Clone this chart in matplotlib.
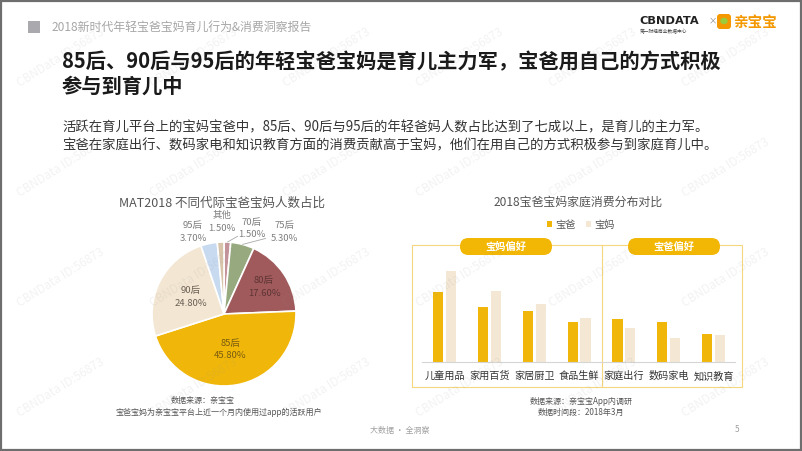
import matplotlib
matplotlib.use('Agg')
import matplotlib.pyplot as plt
from matplotlib.patches import Rectangle, FancyBboxPatch, Ellipse
import numpy as np

plt.rcParams['font.family'] = ['Noto Sans CJK SC', 'DejaVu Sans']

W, H = 802, 451

# pie data (clockwise from 12 o'clock)
pie_labels = ['70后', '75后', '80后', '85后', '90后', '95后', '其他']
pie_values = [1.5, 5.3, 17.6, 45.8, 24.8, 3.7, 1.5]
pie_colors = ['#C4939A', '#97AA7F', '#A05A5C', '#F0B70A', '#F3E7D3', '#C8DAF0', '#D8C4AA']

# bar data (relative heights, no axis in the original)
bar_categories = ['儿童用品', '家用百货', '家居厨卫', '食品生鲜', '家庭出行', '数码家电', '知识教育']
dad_values = [70, 55, 51, 40, 43, 40, 28]
mom_values = [91, 71, 58, 44, 34, 24, 27]
dad_color = '#F0B70A'
mom_color = '#F4E8D5'


def box(x0, y0, x1, y1):
    # pixel box (top-left origin) -> figure fraction rect
    return [x0 / W, 1 - y1 / H, (x1 - x0) / W, (y1 - y0) / H]


fig = plt.figure(figsize=(W / 100, H / 100), dpi=100)
bg = fig.add_axes([0, 0, 1, 1])
bg.set_xlim(0, W)
bg.set_ylim(H, 0)
bg.axis('off')

# slide border
bg.add_patch(Rectangle((0.8, 0.8), W - 1.6, H - 1.6, fill=False, edgecolor='#6E6E6E', lw=1.6))

# header
bg.add_patch(Rectangle((28, 21), 12, 12, color='#A9A9AE', lw=0))
bg.text(52, 27, '2018新时代年轻宝爸宝妈育儿行为&消费洞察报告', fontsize=8.6, color='#A6A6A6', va='center')

# logos
bg.text(639, 21, 'CBNDATA', fontsize=8.2, fontweight='bold', color='#222222', va='center', family='DejaVu Sans')
bg.text(640, 31.5, '第一财经商业数据中心', fontsize=3.4, color='#444444', va='center')
bg.text(708.5, 21, '×', fontsize=6, color='#888888', va='center')
bg.add_patch(FancyBboxPatch((717, 14), 14, 15, boxstyle='round,pad=0,rounding_size=3', fc='#F39800', ec='none'))
bg.add_patch(Ellipse((724, 21), 6, 5, color='#9CCB3B'))
bg.text(733, 22, '亲宝宝', fontsize=10.5, fontweight='bold', color='#F39800', va='center')

# headline
bg.text(62, 62, '85后、90后与95后的年轻宝爸宝妈是育儿主力军，宝爸用自己的方式积极',
        fontsize=14.6, fontweight='bold', color='#1A1A1A', va='center')
bg.text(62, 86, '参与到育儿中', fontsize=14.6, fontweight='bold', color='#1A1A1A', va='center')

# paragraph
bg.text(62, 127, '活跃在育儿平台上的宝妈宝爸中，85后、90后与95后的年轻爸妈人数占比达到了七成以上，是育儿的主力军。',
        fontsize=9.6, color='#333333', va='center')
bg.text(62, 145, '宝爸在家庭出行、数码家电和知识教育方面的消费贡献高于宝妈，他们在用自己的方式积极参与到家庭育儿中。',
        fontsize=9.6, color='#333333', va='center')

# ---------- pie ----------
bg.text(222, 203, 'MAT2018 不同代际宝爸宝妈人数占比', fontsize=9.0, color='#555555', ha='center', va='center')

ax_pie = fig.add_axes(box(134, 224, 314, 404))
wedges, _ = ax_pie.pie(pie_values, colors=pie_colors, startangle=90, counterclock=False,
                       radius=1, wedgeprops=dict(edgecolor='white', linewidth=1.2))
ax_pie.set_xlim(-1.25, 1.25)
ax_pie.set_ylim(-1.25, 1.25)

inner_r = {2: 0.67, 3: 0.5, 4: 0.52}
inner_color = {2: '#5E3434', 3: '#7A5C10', 4: '#6B6055'}
outer_xy = {0: (0.39, 1.19), 1: (0.84, 1.14), 5: (-0.43, 1.14), 6: (-0.03, 1.28)}
leader_end = {0: (0.19, 1.08), 1: (0.58, 1.05)}

for i, w in enumerate(wedges):
    txt = f'{pie_labels[i]}\n{pie_values[i]:.2f}%'
    mid = np.deg2rad((w.theta1 + w.theta2) / 2)
    if i in inner_r:
        r = inner_r[i]
        ax_pie.text(r * np.cos(mid), r * np.sin(mid), txt, fontsize=6.8, color=inner_color[i],
                    ha='center', va='center', linespacing=1.5)
    else:
        x, y = outer_xy[i]
        ax_pie.text(x, y, txt, fontsize=6.8, color='#7F7F7F', ha='center', va='center', linespacing=1.5)
    if i in leader_end:
        ax_pie.annotate('', xy=(1.0 * np.cos(mid), 1.0 * np.sin(mid)), xytext=leader_end[i],
                        arrowprops=dict(arrowstyle='-', color='#A8A8A8', lw=0.6, shrinkA=0, shrinkB=0))

bg.text(203, 401, '数据来源：亲宝宝', fontsize=5.8, color='#555555', ha='center', va='center')
bg.text(219, 412, '宝爸宝妈为亲宝宝平台上近一个月内使用过app的活跃用户', fontsize=5.8, color='#555555',
        ha='center', va='center')

# ---------- bars ----------
bg.text(578, 202, '2018宝爸宝妈家庭消费分布对比', fontsize=8.6, color='#555555', ha='center', va='center')

frame_c = '#F6D77F'
bg.add_patch(Rectangle((412, 245), 330, 142, fill=False, edgecolor=frame_c, lw=0.8))
bg.plot([602, 602], [245, 387], color=frame_c, lw=0.8)
for x0, label in [(460, '宝妈偏好'), (628, '宝爸偏好')]:
    bg.add_patch(FancyBboxPatch((x0, 238), 92, 17, boxstyle='round,pad=0,rounding_size=8.5',
                                fc='#F2B705', ec='none'))
    bg.text(x0 + 46, 246.5, label, fontsize=7.4, fontweight='bold', color='white', ha='center', va='center')

ax_bar = fig.add_axes(box(422, 262, 735, 362))
x = np.arange(len(bar_categories))
bw = 0.23
off = 0.143
ax_bar.bar(x - off, dad_values, bw, color=dad_color, label='宝爸')
ax_bar.bar(x + off, mom_values, bw, color=mom_color, label='宝妈')
ax_bar.set_xlim(-0.507, 6.48)
ax_bar.set_ylim(0, 100)
ax_bar.patch.set_alpha(0)
for s in ['top', 'right', 'left']:
    ax_bar.spines[s].set_visible(False)
ax_bar.spines['bottom'].set_color('#D5D5D5')
ax_bar.spines['bottom'].set_linewidth(0.8)
ax_bar.set_yticks([])
ax_bar.set_xticks(x, bar_categories)
ax_bar.tick_params(axis='x', length=0, pad=6.5, labelsize=7.3, labelcolor='#333333')
ax_bar.legend(ncol=2, loc='center', bbox_to_anchor=(581 / W, 1 - 225 / H), bbox_transform=fig.transFigure,
              frameon=False, fontsize=7.4, handlelength=0.5, handleheight=0.5, handletextpad=0.3,
              columnspacing=1.0, labelcolor='#595959')

bg.text(581, 401, '数据来源：亲宝宝App内调研', fontsize=5.8, color='#555555', ha='center', va='center')
bg.text(581, 412, '数据时间段：2018年3月', fontsize=5.8, color='#555555', ha='center', va='center')

# footer
bg.text(400, 430, '大数据 · 全洞察', fontsize=5.8, color='#A0A0A0', ha='center', va='center')
bg.text(737, 429, '5', fontsize=6, color='#A0A0A0', ha='center', va='center')

# watermark overlay
wm = fig.add_axes([0, 0, 1, 1], zorder=10)
wm.set_xlim(0, W)
wm.set_ylim(H, 0)
wm.axis('off')
for y0 in [87, 197, 307, 417]:
    for x0 in range(20, W, 133):
        wm.text(x0, y0, 'CBNData ID:56873', fontsize=8.5, color='#8C8C8C', alpha=0.11,
                rotation=32, rotation_mode='anchor', ha='left', va='baseline')

fig.savefig('out.png', dpi=100)
